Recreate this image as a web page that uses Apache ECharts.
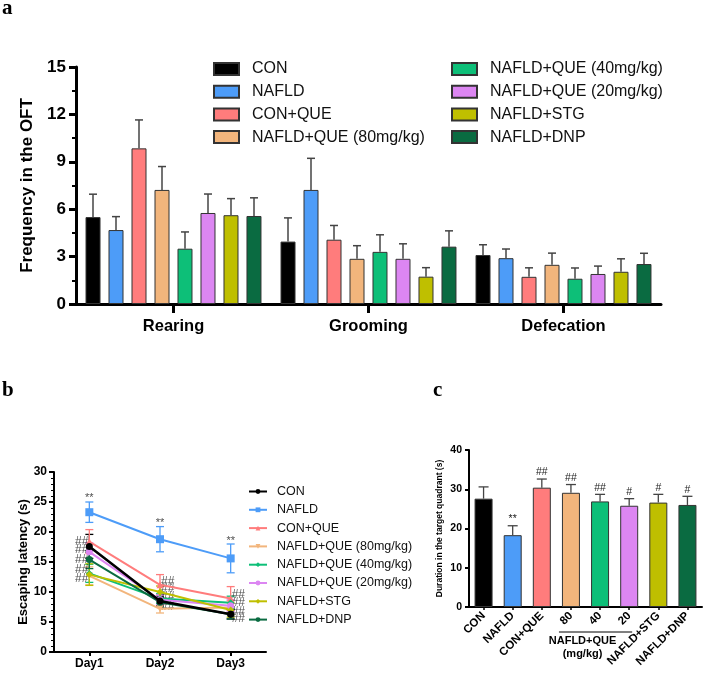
<!DOCTYPE html>
<html><head><meta charset="utf-8">
<script src="https://cdn.jsdelivr.net/npm/echarts@6/dist/echarts.min.js"></script>
<style>html,body{margin:0;padding:0;background:#fff}#c{width:709px;height:674px}</style>
</head><body><div id="c"></div>
<script>
// ---------- shared ----------
const groups = ['CON','NAFLD','CON+QUE','NAFLD+QUE (80mg/kg)','NAFLD+QUE (40mg/kg)','NAFLD+QUE (20mg/kg)','NAFLD+STG','NAFLD+DNP'];
const colors = ['#000000','#4D9CF8','#FF7C7C','#F2B57C','#0DBF78','#DC86F2','#BFBF00','#0A6B41'];

// ---------- panel a : Frequency in the OFT ----------
const catsA = ['Rearing','Grooming','Defecation'];
const oft_CON    = [5.50, 3.95, 3.10]; const oftErr_CON    = [1.45, 1.50, 0.65];
const oft_NAFLD  = [4.68, 7.22, 2.90]; const oftErr_NAFLD  = [0.85, 2.00, 0.58];
const oft_CONQUE = [9.85, 4.07, 1.72]; const oftErr_CONQUE = [1.80, 0.90, 0.57];
const oft_Q80    = [7.22, 2.86, 2.48]; const oftErr_Q80    = [1.48, 0.83, 0.74];
const oft_Q40    = [3.50, 3.30, 1.60]; const oftErr_Q40    = [1.06, 1.08, 0.68];
const oft_Q20    = [5.76, 2.86, 1.90]; const oftErr_Q20    = [1.20, 0.95, 0.50];
const oft_STG    = [5.62, 1.73, 2.04]; const oftErr_STG    = [1.05, 0.57, 0.82];
const oft_DNP    = [5.57, 3.63, 2.53]; const oftErr_DNP    = [1.15, 1.00, 0.68];
const meanA = [oft_CON, oft_NAFLD, oft_CONQUE, oft_Q80, oft_Q40, oft_Q20, oft_STG, oft_DNP];
const errA  = [oftErr_CON, oftErr_NAFLD, oftErr_CONQUE, oftErr_Q80, oftErr_Q40, oftErr_Q20, oftErr_STG, oftErr_DNP];

// ---------- panel b : Escaping latency ----------
const daysB = ['Day1','Day2','Day3'];
const lat_CON    = [17.6,  8.5, 6.3]; const latErr_CON    = [2.0, 0.8, 0.8];
const lat_NAFLD  = [23.3, 18.8, 15.6]; const latErr_NAFLD  = [1.7, 2.1, 2.4];
const lat_CONQUE = [18.4, 11.2, 8.9]; const latErr_CONQUE = [2.0, 1.7, 2.0];
const lat_Q80    = [12.7,  7.2, 7.4]; const latErr_Q80    = [1.5, 0.7, 1.2];
const lat_Q40    = [13.1,  8.9, 8.2]; const latErr_Q40    = [1.5, 0.8, 1.1];
const lat_Q20    = [16.7,  8.7, 7.7]; const latErr_Q20    = [1.5, 0.8, 1.0];
const lat_STG    = [12.9, 10.0, 7.0]; const latErr_STG    = [1.8, 1.0, 1.2];
const lat_DNP    = [15.4,  8.3, 6.3]; const latErr_DNP    = [1.5, 0.8, 0.8];
const meanB = [lat_CON, lat_NAFLD, lat_CONQUE, lat_Q80, lat_Q40, lat_Q20, lat_STG, lat_DNP];
const errB  = [latErr_CON, latErr_NAFLD, latErr_CONQUE, latErr_Q80, latErr_Q40, latErr_Q20, latErr_STG, latErr_DNP];
const symbolsB = ['circle','rect','triangle','path://M0,0 L10,0 L5,9 Z','diamond','circle','diamond','circle'];
// significance marks (value positions)
const sigB_star = [25.6, 21.5, 18.5];
const sigB_day1 = [18.4, 17.0, 15.4, 13.7, 12.3];
const sigB_day2 = [11.8, 10.5, 9.2, 7.5];
const sigB_day3 = [9.5, 8.2, 6.8, 5.5];

// ---------- panel c : Duration in the target quadrant ----------
const catsC = ['CON','NAFLD','CON+QUE','80','40','20','NAFLD+STG','NAFLD+DNP'];
const durC    = [27.6, 18.3, 30.4, 29.1, 26.9, 25.8, 26.6, 26.0];
const durErrC = [3.0, 2.4, 2.2, 2.1, 1.8, 1.8, 2.1, 2.2];
const sigC    = ['', '**', '##', '##', '##', '#', '#', '#'];

const A_BAR = 15, A_STEP = 23;
const FONT = 'Liberation Sans, Arial, sans-serif';
const ZW = '\u200b'; // distinguishes panel-b line series from panel-a bars with the same label
const namesB = groups.map(g => g + ZW);

const series = [];
// panel a bars
groups.forEach((g, i) => {
  series.push({
    type: 'bar', name: g, xAxisIndex: 0, yAxisIndex: 0,
    data: meanA[i], barWidth: A_BAR, barGap: ((A_STEP - A_BAR) / A_BAR * 100).toFixed(1) + '%',
    itemStyle: { color: colors[i], borderColor: '#333', borderWidth: 1 }
  });
});
groups.forEach((g, i) => {
  series.push({
    type: 'custom', name: 'errA' + i, xAxisIndex: 0, yAxisIndex: 0, z: 3,
    data: meanA[i].map((m, k) => [k, m, m + errA[i][k]]),
    encode: { x: 0, y: [1, 2] },
    renderItem: (p, api) => {
      const b = api.coord([api.value(0), api.value(1)]);
      const t = api.coord([api.value(0), api.value(2)]);
      const x = b[0] + (i - 3.5) * A_STEP;
      const st = { stroke: '#444', lineWidth: 1.5 };
      return { type: 'group', children: [
        { type: 'line', shape: { x1: x, y1: b[1], x2: x, y2: t[1] }, style: st },
        { type: 'line', shape: { x1: x - 4, y1: t[1], x2: x + 4, y2: t[1] }, style: st }
      ]};
    }
  });
});
// panel b lines
groups.forEach((g, i) => {
  series.push({
    type: 'custom', name: 'errB' + i, xAxisIndex: 1, yAxisIndex: 1, z: 2,
    data: meanB[i].map((m, k) => [k, m - errB[i][k], m + errB[i][k]]),
    encode: { x: 0, y: [1, 2] },
    renderItem: (p, api) => {
      const lo = api.coord([api.value(0), api.value(1)]);
      const hi = api.coord([api.value(0), api.value(2)]);
      const x = lo[0];
      const st = { stroke: colors[i], lineWidth: 1.3 };
      return { type: 'group', children: [
        { type: 'line', shape: { x1: x, y1: lo[1], x2: x, y2: hi[1] }, style: st },
        { type: 'line', shape: { x1: x - 4, y1: hi[1], x2: x + 4, y2: hi[1] }, style: st },
        { type: 'line', shape: { x1: x - 4, y1: lo[1], x2: x + 4, y2: lo[1] }, style: st }
      ]};
    }
  });
});
groups.forEach((g, i) => {
  series.push({
    type: 'line', name: namesB[i], xAxisIndex: 1, yAxisIndex: 1, z: i === 0 ? 6 : 4,
    data: meanB[i], symbol: symbolsB[i], symbolSize: i === 1 ? 8 : 7,
    itemStyle: { color: colors[i] },
    lineStyle: { color: colors[i], width: i === 0 ? 2.5 : 2 }
  });
});
const sigLabel = (pos) => ({ show: true, position: pos, distance: 1, formatter: '{b}', color: '#222', fontSize: 12, fontFamily: FONT });
series.push({
  type: 'scatter', name: 'sigBstar', xAxisIndex: 1, yAxisIndex: 1, symbolSize: 0, silent: true,
  data: sigB_star.map((v, k) => ({ value: [k, v], name: '**' })),
  label: Object.assign(sigLabel('inside'), { fontSize: 11 })
});
series.push({
  type: 'scatter', name: 'sigB1', xAxisIndex: 1, yAxisIndex: 1, symbolSize: 0, silent: true,
  data: sigB_day1.map(v => ({ value: [0, v], name: '##' })), label: sigLabel('left')
});
series.push({
  type: 'scatter', name: 'sigB2', xAxisIndex: 1, yAxisIndex: 1, symbolSize: 0, silent: true,
  data: sigB_day2.map(v => ({ value: [1, v], name: '##' })), label: sigLabel('right')
});
series.push({
  type: 'scatter', name: 'sigB3', xAxisIndex: 1, yAxisIndex: 1, symbolSize: 0, silent: true,
  data: sigB_day3.map(v => ({ value: [2, v], name: '##' })), label: sigLabel('right')
});
// panel c bars
series.push({
  type: 'bar', name: 'durC', xAxisIndex: 2, yAxisIndex: 2, barWidth: 18,
  data: durC.map((v, i) => ({ value: v, itemStyle: { color: colors[i] } })),
  itemStyle: { borderColor: '#333', borderWidth: 1 }
});
series.push({
  type: 'custom', name: 'errC', xAxisIndex: 2, yAxisIndex: 2, z: 3,
  data: durC.map((m, k) => [k, m, m + durErrC[k]]),
  encode: { x: 0, y: [1, 2] },
  renderItem: (p, api) => {
    const b = api.coord([api.value(0), api.value(1)]);
    const t = api.coord([api.value(0), api.value(2)]);
    const x = b[0];
    const st = { stroke: '#444', lineWidth: 1.3 };
    return { type: 'group', children: [
      { type: 'line', shape: { x1: x, y1: b[1], x2: x, y2: t[1] }, style: st },
      { type: 'line', shape: { x1: x - 5, y1: t[1], x2: x + 5, y2: t[1] }, style: st },
      { type: 'text', style: { text: sigC[p.dataIndex], x: x, y: t[1] - 1, align: 'center', verticalAlign: 'bottom', fill: '#222', fontSize: 10.5, fontFamily: FONT } }
    ]};
  }
});

const axisBlack = (w) => ({ show: true, lineStyle: { color: '#000', width: w } });
const stripZW = (n) => n.replace(ZW, '');

const option = {
  animation: false,
  backgroundColor: '#fff',
  textStyle: { fontFamily: FONT },
  title: [
    { text: 'a', left: 2, top: -2, padding: 0, textStyle: { fontFamily: 'Liberation Serif, serif', fontWeight: 'bold', fontSize: 21, color: '#000' } },
    { text: 'b', left: 2, top: 380, padding: 0, textStyle: { fontFamily: 'Liberation Serif, serif', fontWeight: 'bold', fontSize: 21, color: '#000' } },
    { text: 'c', left: 433, top: 380, padding: 0, textStyle: { fontFamily: 'Liberation Serif, serif', fontWeight: 'bold', fontSize: 21, color: '#000' } }
  ],
  legend: [
    { data: groups.slice(0, 4), orient: 'vertical', left: 213, top: 61, padding: 0, icon: 'rect', itemWidth: 25, itemHeight: 12, itemGap: 6.7,
      textStyle: { fontSize: 16, lineHeight: 16, color: '#111', fontFamily: FONT, padding: [0, 0, 0, 8] } },
    { data: groups.slice(4), orient: 'vertical', left: 451, top: 61, padding: 0, icon: 'rect', itemWidth: 25, itemHeight: 12, itemGap: 6.7,
      textStyle: { fontSize: 16, lineHeight: 16, color: '#111', fontFamily: FONT, padding: [0, 0, 0, 8] } },
    { data: namesB, orient: 'vertical', left: 248, top: 485, padding: 0, itemWidth: 18, itemHeight: 6, itemGap: 5.3,
      formatter: stripZW,
      textStyle: { fontSize: 12.5, lineHeight: 13, color: '#111', fontFamily: FONT, padding: [0, 0, 0, 5] } }
  ],
  grid: [
    { left: 76, top: 67, width: 585, height: 237 },
    { left: 54, top: 472, width: 212, height: 180 },
    { left: 469, top: 450, width: 233, height: 157 }
  ],
  xAxis: [
    { type: 'category', gridIndex: 0, data: catsA, axisLine: axisBlack(3),
      axisTick: { show: true, alignWithLabel: true, length: 9, lineStyle: { color: '#000', width: 3 } },
      axisLabel: { color: '#000', fontWeight: 'bold', fontSize: 16.5, margin: 14 } },
    { type: 'category', gridIndex: 1, data: daysB, axisLine: axisBlack(2),
      axisTick: { show: true, alignWithLabel: true, length: 4, lineStyle: { color: '#000', width: 2 } },
      axisLabel: { color: '#000', fontWeight: 'bold', fontSize: 12, margin: 6 } },
    { type: 'category', gridIndex: 2, data: catsC, axisLine: axisBlack(2),
      axisTick: { show: true, alignWithLabel: true, length: 3, lineStyle: { color: '#000', width: 1.5 } },
      axisLabel: { color: '#000', fontWeight: 'bold', fontSize: 11.5, rotate: 45, margin: 7, interval: 0 } }
  ],
  yAxis: [
    { type: 'value', gridIndex: 0, min: 0, max: 15, interval: 3, axisLine: axisBlack(3),
      axisTick: { show: true, length: 7, lineStyle: { color: '#000', width: 3 } },
      minorTick: { show: true, splitNumber: 2, length: 4, lineStyle: { color: '#000', width: 2 } },
      splitLine: { show: false },
      axisLabel: { color: '#000', fontWeight: 'bold', fontSize: 17, margin: 10 },
      name: 'Frequency in the OFT', nameLocation: 'middle', nameGap: 37,
      nameTextStyle: { color: '#000', fontWeight: 'bold', fontSize: 17 } },
    { type: 'value', gridIndex: 1, min: 0, max: 30, interval: 5, axisLine: axisBlack(2),
      axisTick: { show: true, length: 5, lineStyle: { color: '#000', width: 2 } },
      minorTick: { show: true, splitNumber: 5, length: 3, lineStyle: { color: '#000', width: 1 } },
      splitLine: { show: false },
      axisLabel: { color: '#000', fontWeight: 'bold', fontSize: 12, margin: 7 },
      name: 'Escaping latency (s)', nameLocation: 'middle', nameGap: 22,
      nameTextStyle: { color: '#000', fontWeight: 'bold', fontSize: 13 } },
    { type: 'value', gridIndex: 2, min: 0, max: 40, interval: 10, axisLine: axisBlack(2),
      axisTick: { show: true, length: 4, lineStyle: { color: '#000', width: 2 } },
      splitLine: { show: false },
      axisLabel: { color: '#000', fontWeight: 'bold', fontSize: 10.5, margin: 7 },
      name: 'Duration in the target quadrant (s)', nameLocation: 'middle', nameGap: 25,
      nameTextStyle: { color: '#000', fontWeight: 'bold', fontSize: 8.5 } }
  ],
  series: series
};

const chart = echarts.init(document.getElementById('c'), null, { renderer: 'canvas' });
chart.setOption(option);

// bracket under the QUE dose labels in panel c, placed from the axis scale
const p80 = chart.convertToPixel({ gridIndex: 2 }, [3, 0]);
const p20 = chart.convertToPixel({ gridIndex: 2 }, [5, 0]);
const x1 = p80[0] - 12, x2 = p20[0] + 3, yb = p80[1] + 25;
const xm = (x1 + x2) / 2 - 13;
chart.setOption({
  graphic: [
    { type: 'line', shape: { x1: x1, y1: yb, x2: x2, y2: yb }, style: { stroke: '#000', lineWidth: 1 } },
    { type: 'text', x: xm, y: yb + 3, style: { text: 'NAFLD+QUE', align: 'center', verticalAlign: 'top', fill: '#000', fontWeight: 'bold', fontSize: 11, fontFamily: FONT } },
    { type: 'text', x: xm, y: yb + 16, style: { text: '(mg/kg)', align: 'center', verticalAlign: 'top', fill: '#000', fontWeight: 'bold', fontSize: 11, fontFamily: FONT } }
  ]
});
</script></body></html>
